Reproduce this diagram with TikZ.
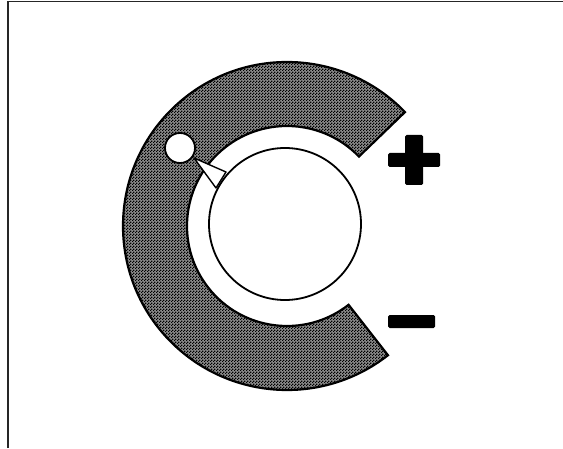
\documentclass[tikz,border=0pt]{standalone}
\usetikzlibrary{patterns}
\pgfdeclarepatternformonly{halftone}{\pgfpointorigin}{\pgfpoint{3pt}{3pt}}{\pgfpoint{3pt}{3pt}}{%
  \pgfpathrectangle{\pgfpointorigin}{\pgfpoint{1.6pt}{1.6pt}}%
  \pgfpathrectangle{\pgfpoint{1.5pt}{1.5pt}}{\pgfpoint{1.6pt}{1.6pt}}%
  \pgfusepath{fill}}
\tikzset{
  bandbase/.style={fill=black!45},
  band/.style={pattern=halftone, draw=black, line width=2.2pt},
  disc/.style={circle, draw=black, fill=white, line width=1.8pt, inner sep=0pt},
  sign/.style={fill=black, rounded corners=1.5pt},
  frameline/.style={line width=1.6pt, draw=black!85}
}
\begin{document}
\begin{tikzpicture}[x=1pt,y=1pt]
\useasboundingbox (0,0) rectangle (563,448);
\fill[white] (0,0) rectangle (563,448);
% frame
\draw[frameline] (8,0) -- (8,446.5) -- (563,446.5);
% C-shaped band
\begin{scope}[shift={(287,222)}]
  \fill[bandbase] (44:164) arc[start angle=44, end angle=308, radius=164]
    -- (308:100) arc[start angle=308, end angle=44, radius=100] -- cycle;
  \path[band] (44:164) arc[start angle=44, end angle=308, radius=164]
    -- (308:100) arc[start angle=308, end angle=44, radius=100] -- cycle;
\end{scope}
% connector wedge
\coordinate (w1) at (194,290);
\coordinate (w2) at (226,276);
\coordinate (w3) at (216,260);
\filldraw[fill=white, draw=black, line width=1.4pt, line join=round] (w1) -- (w2) -- (w3) -- cycle;
% discs
\node[disc, minimum size=152pt] (core) at (285,224) {};
\node[disc, minimum size=30pt] (pin) at (180,300) {};
% plus sign
\fill[sign] (405,263) rectangle (423,313);
\fill[sign] (388,281) rectangle (440,295);
% minus sign
\fill[sign] (388,120) rectangle (435,133);
\end{tikzpicture}
\end{document}
